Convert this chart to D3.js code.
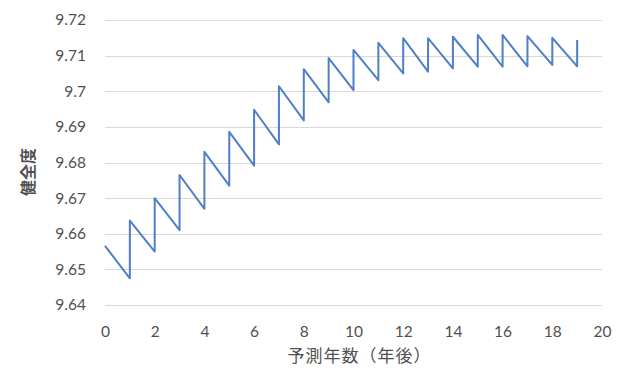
<!DOCTYPE html>
<html><head><meta charset="utf-8">
<script src="https://cdn.jsdelivr.net/npm/d3@7/dist/d3.min.js"></script>
<style>body{margin:0;background:#fff}svg{display:block}</style>
</head><body><svg id="c" width="628" height="374"></svg>
<script>
// value at the start of each year (after the jump)
const years = [0,1,2,3,4,5,6,7,8,9,10,11,12,13,14,15,16,17,18,19];
const startValues = [9.6566,9.6637,9.6700,9.6765,9.6830,9.6886,9.6948,9.7014,9.7062,9.7093,9.7116,9.7136,9.7149,9.7149,9.7153,9.7158,9.7158,9.7155,9.7150,9.7144];
// value just before the jump at years 1..19
const endYears = [1,2,3,4,5,6,7,8,9,10,11,12,13,14,15,16,17,18,19];
const endValues = [9.6475,9.6550,9.6610,9.6670,9.6735,9.6791,9.6851,9.6918,9.6969,9.7003,9.7031,9.7050,9.7055,9.7064,9.7069,9.7069,9.7070,9.7074,9.7070];
const xTicks = [0,2,4,6,8,10,12,14,16,18,20];
const yTicks = [9.64,9.65,9.66,9.67,9.68,9.69,9.70,9.71,9.72];
const xTitle = "予測年数（年後）";
const yTitle = "健全度";

const pts = [[years[0], startValues[0]]];
endYears.forEach((yr, i) => {
  pts.push([yr, endValues[i]]);
  pts.push([yr, startValues[years.indexOf(yr)]]);
});

const svg = d3.select("#c");
const x = d3.scaleLinear().domain([0,20]).range([105,602]);
const y = d3.scaleLinear().domain([9.64,9.72]).range([305,20]);
const font = "Lato, 'Open Sans', sans-serif";

// gridlines
svg.append("g").selectAll("line").data(yTicks).join("line")
  .attr("x1", x(0)).attr("x2", x(20))
  .attr("y1", d => Math.round(y(d))+0.5).attr("y2", d => Math.round(y(d))+0.5)
  .attr("stroke", "#d9d9d9").attr("stroke-width", 1);

// y axis
const ya = svg.append("g").attr("transform", `translate(${x(0)},0)`)
  .call(d3.axisLeft(y).tickValues(yTicks).tickSize(0).tickPadding(19)
    .tickFormat(d => d3.format("")(+d.toFixed(2))));
ya.select(".domain").remove();
ya.selectAll("text").attr("font-family", font).attr("font-size", 15.5).attr("fill", "#505050");

// x axis
const xa = svg.append("g").attr("transform", `translate(0,${y(9.64)})`)
  .call(d3.axisBottom(x).tickValues(xTicks).tickSize(0).tickPadding(21));
xa.select(".domain").remove();
xa.selectAll("text").attr("font-family", font).attr("font-size", 15.5).attr("fill", "#505050");

// line
svg.append("path").datum(pts)
  .attr("fill", "none").attr("stroke", "#4f7fc6").attr("stroke-width", 2)
  .attr("stroke-linejoin", "round")
  .attr("d", d3.line().x(d => x(d[0])).y(d => y(d[1])));

// titles
svg.append("text").attr("x", (x(0)+x(20))/2 + 6).attr("y", 362)
  .attr("text-anchor", "middle").attr("font-family", "'Noto Sans CJK JP', sans-serif")
  .attr("font-size", 17).attr("letter-spacing", 1).attr("fill", "#505050").text(xTitle);
svg.append("text").attr("transform", "translate(34,172) rotate(-90)")
  .attr("text-anchor", "middle").attr("font-family", "'Noto Sans CJK JP', sans-serif")
  .attr("font-size", 16).attr("font-weight", "bold").attr("fill", "#505050").text(yTitle);
</script></body></html>
